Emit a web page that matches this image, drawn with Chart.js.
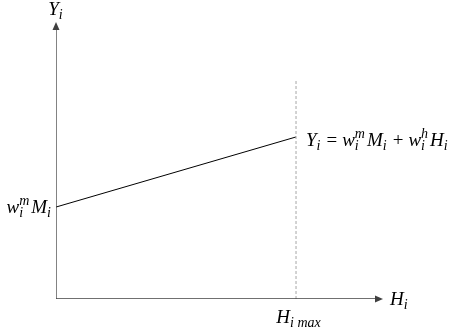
<!DOCTYPE html>
<html>
<head>
<meta charset="utf-8">
<script src="https://cdn.jsdelivr.net/npm/chart.js@4/dist/chart.umd.min.js"></script>
<style>
  html, body { margin: 0; padding: 0; background: #fff; }
  #wrap { width: 452px; height: 330px; position: relative; }
</style>
</head>
<body>
<div id="wrap"><canvas id="c" width="452" height="330"></canvas></div>
<script>
  // Schematic values (axis units 0..100)
  var H_MAX = [73.4];
  var LINE_X = [0, 73.4];
  var LINE_Y = [33.2, 58.5];
  var GUIDE_Y = [0, 79.1];
  var AXIS_END = [100, 100];

  var MATH_FONT = "'Liberation Serif', 'DejaVu Serif', serif";

  // draw a run of math pieces: {t, s:'base'|'sub'|'both', up:'', it:true}
  function drawMath(ctx, parts, x, y, size, align) {
    function font(sz, it) {
      return (it === false ? '' : 'italic ') + sz + 'px ' + MATH_FONT;
    }
    var small = Math.round(size * 0.72);
    function widthOf(p) {
      if (p.s === 'both') {
        ctx.font = font(small, true);
        return Math.max(ctx.measureText(p.t).width, ctx.measureText(p.up).width) + 2;
      }
      ctx.font = font(p.s === 'base' ? size : small, p.it);
      return ctx.measureText(p.t).width + (p.pad || 0) + (p.s === 'sub' ? 1 : 0);
    }
    var total = 0;
    parts.forEach(function (p) { total += widthOf(p); });
    var cx = align === 'center' ? x - total / 2 : (align === 'right' ? x - total : x);
    ctx.textBaseline = 'alphabetic';
    ctx.textAlign = 'left';
    parts.forEach(function (p) {
      var w = widthOf(p);
      if (p.s === 'both') {
        ctx.font = font(small, true);
        ctx.fillText(p.up, cx, y - size * 0.4);
        ctx.fillText(p.t, cx, y + size * 0.22);
      } else if (p.s === 'sub') {
        ctx.font = font(small, p.it);
        ctx.fillText(p.t, cx, y + size * 0.22);
      } else {
        ctx.font = font(size, p.it);
        ctx.fillText(p.t, cx + (p.pad || 0) / 2, y);
      }
      cx += w;
    });
  }

  var annotations = {
    id: 'annotations',
    afterDatasetsDraw: function (chart) {
      var ctx = chart.ctx;
      var xs = chart.scales.x, ys = chart.scales.y;
      var x0 = xs.getPixelForValue(0), y0 = ys.getPixelForValue(0);
      var xe = xs.getPixelForValue(AXIS_END[0]), ye = ys.getPixelForValue(AXIS_END[1]);
      ctx.save();
      ctx.fillStyle = '#404040';
      // arrow heads
      ctx.beginPath();
      ctx.moveTo(xe, y0); ctx.lineTo(xe - 8, y0 - 3.5); ctx.lineTo(xe - 8, y0 + 3.5);
      ctx.closePath(); ctx.fill();
      ctx.beginPath();
      ctx.moveTo(x0, ye); ctx.lineTo(x0 - 3.5, ye + 8); ctx.lineTo(x0 + 3.5, ye + 8);
      ctx.closePath(); ctx.fill();

      ctx.fillStyle = '#000';
      var sz = 19;
      // Y_i at top of y axis
      drawMath(ctx, [{t: 'Y', s: 'base'}, {t: 'i', s: 'sub'}], x0, ye - 7, sz, 'center');
      // H_i at end of x axis
      drawMath(ctx, [{t: 'H', s: 'base'}, {t: 'i', s: 'sub'}], xe + 7, y0 + 6, sz, 'left');
      // H_i max under the guide
      var hx = xs.getPixelForValue(H_MAX[0]);
      drawMath(ctx, [{t: 'H', s: 'base'}, {t: 'i max', s: 'sub'}], hx + 3, y0 + 24, sz, 'center');
      // intercept label
      var iy = ys.getPixelForValue(LINE_Y[0]);
      drawMath(ctx, [{t: 'w', s: 'base'}, {t: 'i', up: 'm', s: 'both'}, {t: 'M', s: 'base'}, {t: 'i', s: 'sub'}],
        x0 - 4, iy + 6, sz, 'right');
      // equation at the end of the line
      var ey = ys.getPixelForValue(LINE_Y[1]);
      drawMath(ctx, [
        {t: 'Y', s: 'base'}, {t: 'i', s: 'sub'},
        {t: '=', s: 'base', it: false, pad: 10},
        {t: 'w', s: 'base'}, {t: 'i', up: 'm', s: 'both'}, {t: 'M', s: 'base'}, {t: 'i', s: 'sub'},
        {t: '+', s: 'base', it: false, pad: 10},
        {t: 'w', s: 'base'}, {t: 'i', up: 'h', s: 'both'}, {t: 'H', s: 'base'}, {t: 'i', s: 'sub'}
      ], hx + 10, ey + 9, sz, 'left');
      ctx.restore();
    }
  };

  new Chart(document.getElementById('c'), {
    type: 'scatter',
    data: {
      datasets: [
        {
          // x axis
          data: [{x: 0, y: 0}, {x: AXIS_END[0] - 2, y: 0}],
          showLine: true, borderColor: '#404040', borderWidth: 1.3, pointRadius: 0
        },
        {
          // y axis
          data: [{x: 0, y: 0}, {x: 0, y: AXIS_END[1] - 2}],
          showLine: true, borderColor: '#404040', borderWidth: 1.3, pointRadius: 0
        },
        {
          // H max guide
          data: [{x: H_MAX[0], y: GUIDE_Y[0]}, {x: H_MAX[0], y: GUIDE_Y[1]}],
          showLine: true, borderColor: '#a6a6a6', borderWidth: 1, borderDash: [3, 2], pointRadius: 0
        },
        {
          // Y = w^m M + w^h H
          data: LINE_X.map(function (x, i) { return {x: x, y: LINE_Y[i]}; }),
          showLine: true, borderColor: '#000', borderWidth: 1, pointRadius: 0
        }
      ]
    },
    options: {
      responsive: false,
      animation: false,
      devicePixelRatio: 1,
      layout: { padding: { left: 56, right: 69, top: 22, bottom: 31 } },
      scales: {
        x: { type: 'linear', min: 0, max: 100, display: false },
        y: { type: 'linear', min: 0, max: 100, display: false }
      },
      plugins: { legend: { display: false }, tooltip: { enabled: false } }
    },
    plugins: [annotations]
  });
</script>
</body>
</html>
